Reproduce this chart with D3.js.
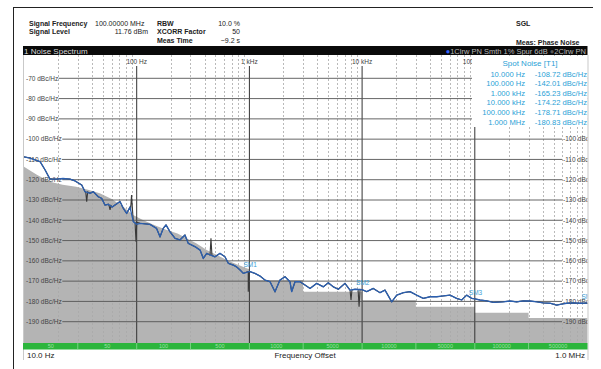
<!DOCTYPE html>
<html><head><meta charset="utf-8">
<script src="https://cdn.jsdelivr.net/npm/d3@7"></script>
<style>body{margin:0;background:#fff;} svg{display:block;font-family:"Liberation Sans",Arial,sans-serif;}</style>
</head><body><svg id="c" width="601" height="369"></svg>
<script>
// ---- data ----
const traceFreq = [10,11.3,13.9,15.4,17,19.5,22.2,25.6,28.4,32.5,34.8,38.5,41.2,45.6,48.9,52.3,56,60.4,64.2,71.1,76,81.5,87.2,93.3,100,107,131,150,161,172,182,197,219,242,268,287,329,365,390,418,447,495,548,607,650,720,771,826,883,977,1000,1122,1242,1374,1524,1687,1866,2070,2291,2372,2540,2812,3112,3451,3955,4529,5012,5550,6150,7047,7810,8650,10000,10990,12560,14420,15960,18320,20280,23230,26610,30480,34920,40080,45920,52600,60260,69050,76550,84720,93800,100000,111200,127600,146000,179000,205000,235400,269400,309000,354000,405500,464500,533000,590000,653500,748000,857000,1000000];
const traceDb = [-108.72,-109.3,-111.1,-115.2,-119.7,-119.7,-119.4,-119.7,-120.6,-122.6,-125.9,-126.7,-125.9,-128.4,-129.2,-132.5,-132.1,-133.5,-132.5,-130.8,-134.1,-136.6,-133.5,-140.7,-142.01,-141.5,-142.0,-144.0,-148.1,-144.0,-142.3,-145.6,-148.9,-149.7,-147.3,-151.4,-153.0,-154.7,-158.8,-156.3,-157.1,-158.0,-156.3,-158.0,-161.2,-162.1,-163.0,-164.5,-166.2,-165.4,-165.23,-166.2,-167.5,-169.5,-170.3,-175.2,-169.5,-167.8,-170.3,-175.2,-170.3,-170.3,-171.9,-173.6,-171.1,-172.8,-170.8,-172.8,-174.0,-171.1,-174.4,-174.0,-174.22,-175.2,-173.6,-175.7,-174.4,-180.2,-176.9,-175.7,-175.2,-176.9,-178.5,-177.7,-177.7,-177.3,-176.9,-178.5,-179.3,-176.9,-178.5,-178.71,-179.3,-179.7,-180.5,-180.2,-179.8,-180.2,-179.7,-179.8,-180.2,-180.7,-180.9,-181.8,-181.3,-180.9,-180.7,-180.9,-180.83];
const spurFreq = [36,58,90,98.6,456,977,7970,9400];
const spurBaseDb = [-126.0,-132.8,-135.0,-141.0,-157.3,-165.4,-174.3,-174.1];
const spurPeakDb = [-130.8,-134.9,-127.5,-150.6,-148.9,-175.2,-179.3,-182.6];
const floorFreq = [10,13,17,22,29,37,47,60,76,93,110,123,150,185,230,278,340,418,510,629,780,946,1000,1000,3000,3000,10000,10000,30000,30000,100000,100000,300000,300000,1000000];
const floorDb = [-113.6,-117.5,-121.0,-122.5,-123.5,-125.0,-126.7,-129.5,-133.3,-137.4,-139.5,-140.7,-142.8,-144.8,-146.5,-148.8,-151.5,-154.7,-157.0,-159.6,-161.8,-163.7,-164.2,-169.4,-169.4,-175.2,-175.2,-179.3,-179.3,-182.6,-182.6,-185.6,-185.6,-188.2,-188.2];
const yTicks = [-70,-80,-90,-100,-110,-120,-130,-140,-150,-160,-170,-180,-190];
const rightTicks = [-100,-110,-120,-130,-140,-150,-160,-170,-180,-190];
const decadeFreq = [100,1000,10000,100000];
const decadeLabels = ["100 Hz","1 kHz","10 kHz","100 kHz"];
const segBounds = [10,30,100,300,1000,3000,10000,30000,100000,300000,1000000];
const segLabels = ["50","50","100","500","1000","5000","10000","50000","100000","500000"];
const spotFreqLabels = ["10.000 Hz","100.000 Hz","1.000 kHz","10.000 kHz","100.000 kHz","1.000 MHz"];
const spotValues = [-108.72,-142.01,-165.23,-174.22,-178.71,-180.83];
const markerFreq = [1000,10000,100000,1000000];
const markerDb = [-165.23,-174.22,-178.71,-180.83];
const markerNames = ["SM1","SM2","SM3","SM4"];

// ---- layout ----
const svg = d3.select("#c");
const L = 23, R = 587.5, T = 55, B = 343;
const x = d3.scaleLog().domain([10,1e6]).range([24,587.5]);
const y = d3.scaleLinear().domain([-70,-190]).range([78.3,321.7]);

svg.append("defs").append("clipPath").attr("id","pc")
  .append("rect").attr("x",L).attr("y",T).attr("width",R-L).attr("height",B-T);

// outer frame
svg.append("line").attr("x1",13).attr("x2",593).attr("y1",7.5).attr("y2",7.5).attr("stroke","#222").attr("stroke-width",1);
svg.append("line").attr("x1",13.5).attr("x2",13.5).attr("y1",7).attr("y2",369).attr("stroke","#222").attr("stroke-width",1);

// header
const hdr = svg.append("g").attr("font-size",7).attr("fill","#222");
function ht(tx,ty,s,bold,anchor){hdr.append("text").attr("x",tx).attr("y",ty).text(s).attr("font-weight",bold?"bold":null).attr("text-anchor",anchor||"start");}
ht(29,26,"Signal Frequency",true); ht(95,26,"100.00000 MHz",false);
ht(29,34,"Signal Level",true); ht(148,34,"11.76 dBm",false,"end");
ht(157,26,"RBW",true); ht(240,26,"10.0 %",false,"end");
ht(157,34,"XCORR Factor",true); ht(240,34,"50",false,"end");
ht(157,42.5,"Meas Time",true); ht(240,42.5,"~9.2 s",false,"end");
ht(516,25.5,"SGL",true);
ht(516,44.5,"Meas: Phase Noise",true);

// title bar
svg.append("rect").attr("x",L).attr("y",46).attr("width",R-L).attr("height",9).attr("fill","#0a0a0a");
svg.append("text").attr("x",24).attr("y",53.5).attr("font-size",8).attr("fill","#d8d8d8").text("1 Noise Spectrum");
const tr = svg.append("text").attr("x",586).attr("y",53.5).attr("font-size",7.5).attr("fill","#b8b8b8").attr("text-anchor","end");
tr.append("tspan").attr("fill","#3060ff").text("\u25CF");
tr.append("tspan").text("1Clrw PN Smth 1% Spur 6dB ");
tr.append("tspan").attr("fill","#555").text("\u25CF");
tr.append("tspan").text("2Clrw PN");

// plot area
const plot = svg.append("g").attr("clip-path","url(#pc)");
plot.append("rect").attr("x",L).attr("y",T).attr("width",R-L).attr("height",B-T).attr("fill","#fff");

// gray floor
const floorPts = floorFreq.map((f,i)=>[f,floorDb[i]]);
plot.append("path").datum(floorPts)
  .attr("d", d3.area().x(d=>x(d[0])).y0(B+2).y1(d=>y(d[1])))
  .attr("fill","#b4b4b4");

// minor vertical dashed lines
const minors = [];
[10,100,1000,10000,100000].forEach(dec=>{for(let k=2;k<=9;k++) minors.push(dec*k);});
plot.selectAll(".mn").data(minors).join("line")
  .attr("x1",d=>Math.round(x(d))+0.5).attr("x2",d=>Math.round(x(d))+0.5)
  .attr("y1",T).attr("y2",B).attr("stroke","#a8a8a8").attr("stroke-width",0.8).attr("stroke-dasharray","2,2");

// decade lines
plot.selectAll(".dc").data(decadeFreq).join("line")
  .attr("x1",d=>x(d)).attr("x2",d=>x(d)).attr("y1",66).attr("y2",B)
  .attr("stroke","#333").attr("stroke-width",1);

// left labels + horizontal grid
const gl = plot.append("g");
yTicks.forEach(v=>{
  const t = gl.append("text").attr("x",26).attr("y",y(v)).attr("dy","0.35em")
    .attr("font-size",6.5).attr("fill","#444").text(v+" dBc/Hz");
  const w = t.node().getComputedTextLength();
  const xEnd = rightTicks.includes(v) ? 562 : R;
  gl.insert("line","text").attr("x1",26+w+0.5).attr("x2",xEnd).attr("y1",y(v)).attr("y2",y(v))
    .attr("stroke","#555").attr("stroke-width",0.9);
});
rightTicks.forEach(v=>{
  gl.append("text").attr("x",563).attr("y",y(v)).attr("dy","0.35em")
    .attr("font-size",6.5).attr("fill","#444").text(v+" dBc/Hz");
});

// top decade labels
plot.selectAll(".dl").data(decadeFreq).join("text")
  .attr("x",d=>x(d)).attr("y",64).attr("text-anchor","middle")
  .attr("font-size",6.5).attr("fill","#444").text((d,i)=>decadeLabels[i]);

// traces
const line = d3.line().x(d=>x(d[0])).y(d=>y(d[1]));
const blackPts = traceFreq.map((f,i)=>[f,traceDb[i]]);
spurFreq.forEach((f,i)=>{
  blackPts.push([f/1.02,spurBaseDb[i]],[f,spurPeakDb[i]],[f*1.02,spurBaseDb[i]]);
});
blackPts.sort((a,b)=>a[0]-b[0]);
plot.append("path").datum(blackPts).attr("d",line).attr("fill","none")
  .attr("stroke","#3a3a3a").attr("stroke-width",1.1);
plot.append("path").datum(traceFreq.map((f,i)=>[f,traceDb[i]])).attr("d",line).attr("fill","none")
  .attr("stroke","#2b5fb0").attr("stroke-width",1.3).attr("stroke-linejoin","round");

// markers
plot.selectAll(".mk").data(markerFreq).join("text")
  .attr("x",d=>x(d)-6).attr("y",(d,i)=>y(markerDb[i])-6.5).attr("dy","0.35em")
  .attr("font-size",6.5).attr("fill","#3aa0d8").text((d,i)=>markerNames[i]);

// legend box
const lg = svg.append("g");
lg.append("rect").attr("x",472).attr("y",56).attr("width",R-472).attr("height",71).attr("fill","#fff");
lg.append("text").attr("x",530).attr("y",66).attr("text-anchor","middle").attr("font-size",8)
  .attr("fill","#2a9fd6").text("Spot Noise [T1]");
spotFreqLabels.forEach((s,i)=>{
  const yy = 76.5 + i*9.6;
  lg.append("text").attr("x",525).attr("y",yy).attr("text-anchor","end").attr("font-size",7.6).attr("fill","#2a9fd6").text(s);
  lg.append("text").attr("x",587).attr("y",yy).attr("text-anchor","end").attr("font-size",7.6).attr("fill","#2a9fd6")
    .text(spotValues[i].toFixed(2)+" dBc/Hz");
});

// side frame lines of plot
svg.append("line").attr("x1",L+0.5).attr("x2",L+0.5).attr("y1",T).attr("y2",360).attr("stroke","#bbb").attr("stroke-width",0.8);
svg.append("line").attr("x1",R+0.5).attr("x2",R+0.5).attr("y1",T).attr("y2",360).attr("stroke","#bbb").attr("stroke-width",0.8);

// green bar
const gb = svg.append("g");
gb.append("rect").attr("x",L).attr("y",B).attr("width",R-L).attr("height",6.5).attr("fill","#2cb53c");
for(let i=0;i<segLabels.length;i++){
  const a = x(segBounds[i]), b = x(segBounds[i+1]);
  if(i>0) gb.append("line").attr("x1",a).attr("x2",a).attr("y1",B).attr("y2",B+6.5).attr("stroke","#8ad894").attr("stroke-width",0.8);
  gb.append("text").attr("x",(a+b)/2).attr("y",B+5.3).attr("text-anchor","middle").attr("font-size",5.5)
    .attr("fill","#9be0a4").text(segLabels[i]);
}

// bottom labels
svg.append("text").attr("x",27).attr("y",358).attr("font-size",8).attr("fill","#222").text("10.0 Hz");
svg.append("text").attr("x",305).attr("y",358).attr("font-size",8).attr("fill","#222").attr("text-anchor","middle").text("Frequency Offset");
svg.append("text").attr("x",585).attr("y",358).attr("font-size",8).attr("fill","#222").attr("text-anchor","end").text("1.0 MHz");
</script></body></html>
